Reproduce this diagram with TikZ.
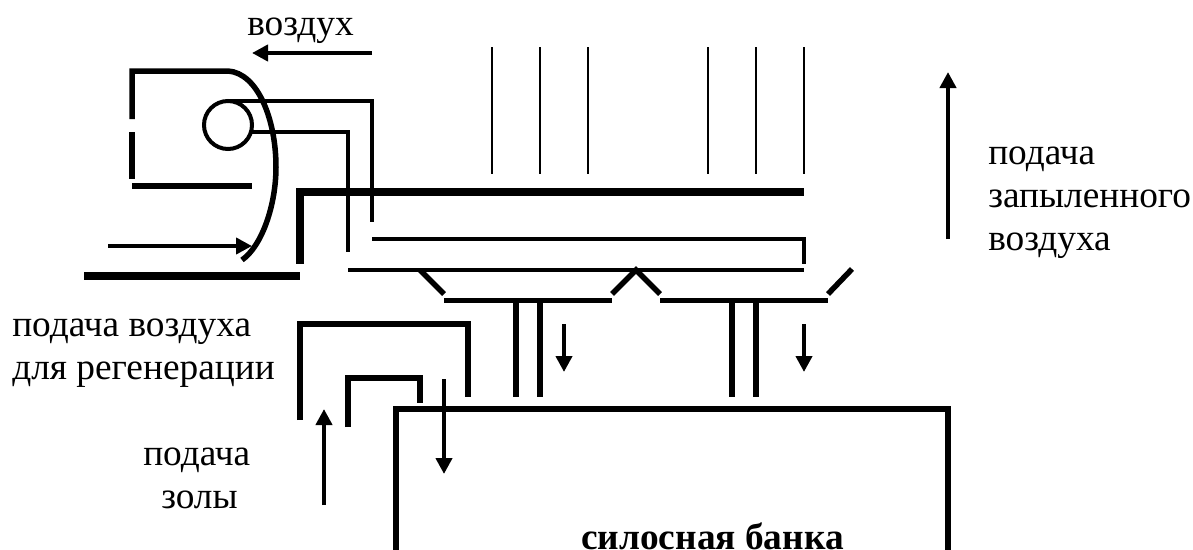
\documentclass[tikz,border=0pt]{standalone}
\usepackage{fontspec}
\setmainfont{Liberation Serif}
\usetikzlibrary{arrows.meta}
\tikzset{
  px/.style={line width=#1*0.75pt},
  wall/.style={px=5.5,line cap=butt,line join=miter},
  heavy/.style={px=8,line cap=butt},
  pipe/.style={px=4,line cap=butt,line join=miter},
  thinl/.style={px=1.6},
  flow/.style={px=4,-{Triangle[length=12pt,width=12pt]}},
  lbl/.style={anchor=base west,inner sep=0pt,font=\fontsize{28}{28}\selectfont},
}
\begin{document}
\begin{tikzpicture}[x=0.75pt,y=-0.75pt]
\useasboundingbox (0,0) rectangle (1193,550);
% fan housing
\draw[wall] (132,119) -- (132,71) -- (228,71)
  .. controls (258,73) and (276,120) .. (276,167)
  .. controls (276,205) and (262,246) .. (242,260);
\draw[wall] (132,132) -- (132,179);
\draw[wall] (132,186) -- (252,186);
\draw[pipe] (228,125) circle (24);
\draw[pipe] (228,101) -- (372,101) -- (372,222);
\draw[pipe] (252,132) -- (348,132) -- (348,252);
% main casing
\draw[heavy] (296,192) -- (804,192);
\draw[heavy] (300,192) -- (300,264);
\draw[heavy] (84,276) -- (300,276);
\draw[pipe] (372,239) -- (804,239) -- (804,264);
\draw[pipe] (348,269.5) -- (804,269.5);
% hoppers
\draw[wall] (420,270) -- (444,294);
\draw[wall] (444,300.5) -- (612,300.5);
\draw[wall] (612,294) -- (636,270) -- (660,294);
\draw[wall] (660,300.5) -- (828,300.5);
\draw[wall] (828,294) -- (852,269);
\draw[wall] (516,300) -- (516,397);
\draw[wall] (540,300) -- (540,397);
\draw[wall] (732,300) -- (732,397);
\draw[wall] (756,300) -- (756,397);
% inlet ducts
\draw[wall] (300,420) -- (300,324) -- (468,324) -- (468,397);
\draw[wall] (348,427) -- (348,378) -- (420,378) -- (420,403);
% silo
\draw[wall] (396,550) -- (396,409) -- (948,409) -- (948,550);
% bag lines
\foreach \x in {492,540,588,708,756,804}
  \draw[thinl] (\x,47) -- (\x,174);
% flow arrows
\draw[flow] (372,53) -- (252,53);
\draw[flow] (108,246) -- (252,246);
\draw[flow] (564,324) -- (564,372);
\draw[flow] (804,324) -- (804,372);
\draw[flow] (444,379) -- (444,474);
\draw[flow] (324,505) -- (324,409);
\draw[flow] (948,239) -- (948,72);
% labels
\node[lbl] (t1) at (247,35) {воздух};
\node[lbl] (t2) at (988,164) {подача};
\node[lbl] (t3) at (988,207) {запыленного};
\node[lbl] (t4) at (988,250) {воздуха};
\node[lbl] (t5) at (12,336) {подача воздуха};
\node[lbl] (t6) at (12,379) {для регенерации};
\node[lbl] (t7) at (143,465) {подача};
\node[lbl] (t8) at (161,508) {золы};
\node[lbl,font=\fontsize{28}{28}\selectfont\bfseries] (t9) at (581,549) {силосная банка};
\end{tikzpicture}
\end{document}
